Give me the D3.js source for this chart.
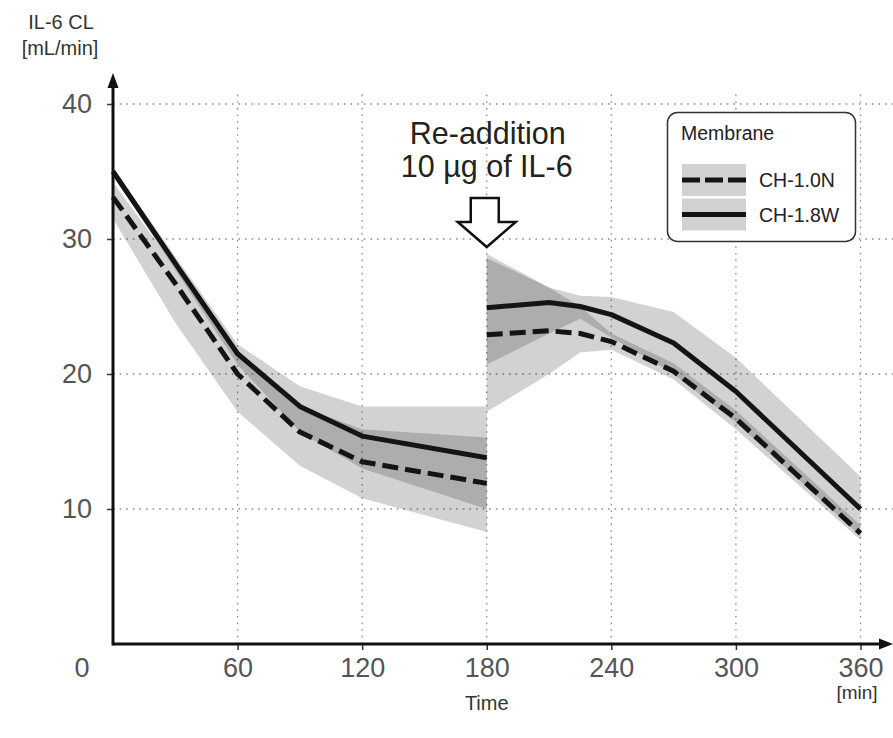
<!DOCTYPE html>
<html>
<head>
<meta charset="utf-8">
<script src="https://cdn.jsdelivr.net/npm/d3@7"></script>
<style>
  html, body { margin: 0; padding: 0; background: #fff; }
  svg { display: block; font-family: Arial, "Liberation Sans", sans-serif; }
</style>
</head>
<body>
<svg id="chart" width="893" height="738"></svg>
<script>
// ---------- data ----------
const times1 = [0, 30, 60, 90, 120, 180];
const times2 = [180, 210, 225, 240, 270, 300, 360];

// CH-1.8W (solid)
const w18Mean1 = [35.0, 28.2, 21.5, 17.6, 15.4, 13.8];
const w18Hi1   = [35.3, 28.7, 22.2, 19.1, 17.6, 17.6];
const w18Lo1   = [34.7, 27.7, 20.7, 15.7, 13.0, 10.0];
const w18Mean2 = [24.9, 25.3, 25.0, 24.4, 22.3, 18.7, 10.0];
const w18Hi2   = [28.9, 26.4, 25.8, 25.7, 24.6, 21.2, 12.4];
const w18Lo2   = [20.7, 23.0, 24.1, 22.7, 20.0, 16.4, 8.0];

// CH-1.0N (dashed)
const n10Mean1 = [33.1, 26.7, 20.0, 15.7, 13.5, 11.9];
const n10Hi1   = [34.2, 27.9, 21.5, 17.6, 15.9, 15.3];
const n10Lo1   = [31.5, 23.8, 17.2, 13.2, 10.8, 8.3];
const n10Mean2 = [22.9, 23.2, 23.0, 22.4, 20.2, 16.7, 8.2];
const n10Hi2   = [28.6, 26.4, 25.0, 23.0, 20.8, 17.3, 8.8];
const n10Lo2   = [17.2, 20.0, 21.6, 21.8, 19.6, 15.9, 7.7];

const xTicks = [60, 120, 180, 240, 300, 360];
const yTicks = [10, 20, 30, 40];
const seriesNames = ["CH-1.0N", "CH-1.8W"];

// ---------- layout ----------
const svg = d3.select("#chart");
const x = d3.scaleLinear().domain([0, 360]).range([113, 860.5]);
const y = d3.scaleLinear().domain([0, 40]).range([644, 104]);

const zip = (t, m, lo, hi) => t.map((v, i) => ({t: v, m: m[i], lo: lo[i], hi: hi[i]}));
const series = [
  {name: seriesNames[0], dash: "16,7", segs: [zip(times1, n10Mean1, n10Lo1, n10Hi1), zip(times2, n10Mean2, n10Lo2, n10Hi2)]},
  {name: seriesNames[1], dash: null,   segs: [zip(times1, w18Mean1, w18Lo1, w18Hi1), zip(times2, w18Mean2, w18Lo2, w18Hi2)]}
];

// grid
const grid = svg.append("g").attr("stroke", "#8c8c8c").attr("stroke-width", 1.3)
  .attr("stroke-dasharray", "1.6,5").attr("fill", "none");
yTicks.forEach(v => grid.append("line").attr("x1", x(0)).attr("x2", 893).attr("y1", y(v)).attr("y2", y(v)));
xTicks.forEach(v => grid.append("line").attr("x1", x(v)).attr("x2", x(v)).attr("y1", y(0)).attr("y2", 92));

// bands
const area = d3.area().x(d => x(d.t)).y0(d => y(d.lo)).y1(d => y(d.hi));
const bands = svg.append("g");
series.forEach(s => s.segs.forEach(seg => {
  bands.append("path").attr("d", area(seg)).attr("fill", "#000").attr("fill-opacity", 0.175);
}));

// lines
const line = d3.line().x(d => x(d.t)).y(d => y(d.m));
const lines = svg.append("g");
series.forEach(s => s.segs.forEach(seg => {
  lines.append("path").attr("d", line(seg)).attr("fill", "none")
    .attr("stroke", "#141414").attr("stroke-width", 5)
    .attr("stroke-dasharray", s.dash).attr("stroke-linejoin", "round");
}));

// axes
const xAxis = svg.append("g").attr("transform", `translate(0,${y(0)})`)
  .call(d3.axisBottom(x).tickValues(xTicks).tickSize(6).tickPadding(8).tickSizeOuter(0));
const yAxis = svg.append("g").attr("transform", `translate(${x(0)},0)`)
  .call(d3.axisLeft(y).tickValues(yTicks).tickSize(6).tickPadding(15).tickSizeOuter(0));
[xAxis, yAxis].forEach(a => {
  a.select(".domain").remove();
  a.selectAll(".tick line").attr("stroke", "#333").attr("stroke-width", 1.5);
  a.selectAll(".tick text").attr("fill", "#555").style("font-size", "27px")
    .style("font-family", "Arial, 'Liberation Sans', sans-serif");
});
yAxis.selectAll(".tick text").attr("dy", "0.33em");

// axis lines with arrows
svg.append("line").attr("x1", x(0)).attr("x2", 885).attr("y1", y(0)).attr("y2", y(0))
  .attr("stroke", "#111").attr("stroke-width", 3);
svg.append("path").attr("d", `M893,${y(0)} L879,${y(0) - 5.5} L879,${y(0) + 5.5} Z`).attr("fill", "#111");
svg.append("line").attr("x1", x(0)).attr("x2", x(0)).attr("y1", y(0) + 1.5).attr("y2", 84)
  .attr("stroke", "#111").attr("stroke-width", 3);
svg.append("path").attr("d", `M${x(0)},73 L${x(0) - 5.5},88 L${x(0) + 5.5},88 Z`).attr("fill", "#111");

// origin label
svg.append("text").attr("x", 82).attr("y", 677).attr("text-anchor", "middle")
  .attr("fill", "#555").style("font-size", "27px").text("0");

// axis titles
svg.append("text").attr("x", 61).attr("y", 29).attr("text-anchor", "middle")
  .attr("fill", "#333").style("font-size", "20px").text("IL-6 CL");
svg.append("text").attr("x", 60).attr("y", 55).attr("text-anchor", "middle")
  .attr("fill", "#333").style("font-size", "20px").text("[mL/min]");
svg.append("text").attr("x", x(180)).attr("y", 710).attr("text-anchor", "middle")
  .attr("fill", "#333").style("font-size", "20px").text("Time");
svg.append("text").attr("x", 857).attr("y", 699).attr("text-anchor", "middle")
  .attr("fill", "#333").style("font-size", "19px").text("[min]");

// annotation
const ax = x(180);
svg.append("text").attr("x", ax + 1).attr("y", 144).attr("text-anchor", "middle")
  .attr("fill", "#222").style("font-size", "30.5px").text("Re-addition");
svg.append("text").attr("x", ax).attr("y", 177).attr("text-anchor", "middle")
  .attr("fill", "#222").style("font-size", "30.5px").text("10 µg of IL-6");
svg.append("path")
  .attr("d", `M${ax - 16},198 L${ax + 12},198 L${ax + 12},222 L${ax + 29},222 L${ax},247 L${ax - 29},222 L${ax - 16},222 Z`)
  .attr("fill", "#fff").attr("stroke", "#111").attr("stroke-width", 2.5).attr("stroke-linejoin", "miter");

// legend
const lg = svg.append("g");
lg.append("rect").attr("x", 667.5).attr("y", 112.5).attr("width", 188).attr("height", 129)
  .attr("rx", 10).attr("fill", "#fff").attr("stroke", "#333").attr("stroke-width", 1.5);
lg.append("text").attr("x", 681).attr("y", 140).attr("fill", "#222").style("font-size", "19.5px").text("Membrane");
series.forEach((s, i) => {
  const cy = 180 + i * 34.5;
  lg.append("rect").attr("x", 682).attr("y", cy - 16).attr("width", 64).attr("height", 32)
    .attr("fill", "#d2d2d2");
  lg.append("line").attr("x1", 682).attr("x2", 746).attr("y1", cy).attr("y2", cy)
    .attr("stroke", "#141414").attr("stroke-width", 5).attr("stroke-dasharray", s.dash ? "18,5" : null);
  lg.append("text").attr("x", 759).attr("y", cy + 7).attr("fill", "#222").style("font-size", "19.5px").text(s.name);
});
</script>
</body>
</html>
